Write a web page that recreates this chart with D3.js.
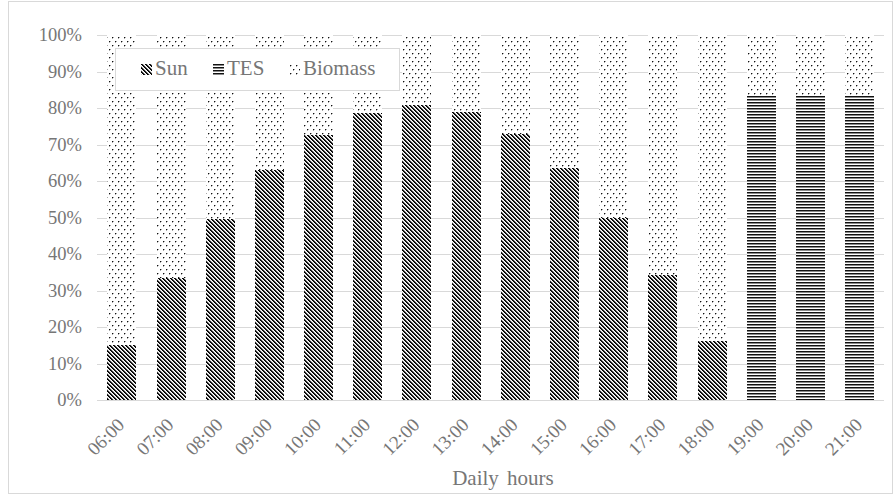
<!DOCTYPE html>
<html>
<head>
<meta charset="utf-8">
<script src="https://cdn.jsdelivr.net/npm/d3@7"></script>
<style>
  html, body { margin: 0; padding: 0; background: #fff; }
  svg { display: block; }
  text { font-family: "Liberation Serif", "Times New Roman", serif; }
</style>
</head>
<body>
<svg id="chart" width="896" height="495"></svg>
<script>
// Share of hourly energy supply by source (%)
const hours = ["06:00","07:00","08:00","09:00","10:00","11:00","12:00","13:00",
               "14:00","15:00","16:00","17:00","18:00","19:00","20:00","21:00"];
const sun = [15, 33.5, 49.5, 63, 72.6, 78.6, 80.7, 79, 73, 63.5, 50, 34.2, 16.2, 0, 0, 0];
const tes = [0, 0, 0, 0, 0, 0, 0, 0, 0, 0, 0, 0, 0, 83.6, 83.6, 83.6];
const biomass = sun.map((s, i) => 100 - s - tes[i]);
const seriesNames = ["Sun", "TES", "Biomass"];
const yTicks = [0, 10, 20, 30, 40, 50, 60, 70, 80, 90, 100];

const svg = d3.select("#chart");
const plot = { left: 97, right: 884, top: 35, bottom: 400 };
const textColor = "#767676";
const gridColor = "#d9d9d9";

// outer chart frame
svg.append("rect")
  .attr("x", 8.5).attr("y", 1.5)
  .attr("width", 884).attr("height", 492)
  .attr("fill", "#fff").attr("stroke", gridColor);

// fill patterns
const defs = svg.append("defs");
const pSun = defs.append("pattern").attr("id", "p-sun")
  .attr("patternUnits", "userSpaceOnUse").attr("width", 4).attr("height", 4);
pSun.append("rect").attr("width", 4).attr("height", 4).attr("fill", "#fff");
const sunShades = ["#000", "#222", "#d0d0d0"];
for (let r = 0; r < 4; r++) {
  sunShades.forEach((c, k) => {
    pSun.append("rect").attr("x", (r + k) % 4).attr("y", r)
      .attr("width", 1).attr("height", 1).attr("fill", c);
  });
}
const pTes = defs.append("pattern").attr("id", "p-tes")
  .attr("patternUnits", "userSpaceOnUse").attr("width", 4).attr("height", 3);
pTes.append("rect").attr("width", 4).attr("height", 3).attr("fill", "#fff");
pTes.append("rect").attr("y", 0).attr("width", 4).attr("height", 1).attr("fill", "#111");
pTes.append("rect").attr("y", 1).attr("width", 4).attr("height", 1).attr("fill", "#8a8a8a");
const pBio = defs.append("pattern").attr("id", "p-bio")
  .attr("patternUnits", "userSpaceOnUse").attr("width", 6).attr("height", 8);
pBio.append("rect").attr("width", 6).attr("height", 8).attr("fill", "#fff");
[[1, 1], [4, 5]].forEach(([dx, dy]) => {
  pBio.append("rect").attr("x", dx).attr("y", dy).attr("width", 1).attr("height", 1).attr("fill", "#111");
  pBio.append("rect").attr("x", dx + 1).attr("y", dy).attr("width", 1).attr("height", 1).attr("fill", "#aaa");
  pBio.append("rect").attr("x", dx).attr("y", dy + 1).attr("width", 1).attr("height", 1).attr("fill", "#aaa");
});
const fills = { Sun: "url(#p-sun)", TES: "url(#p-tes)", Biomass: "url(#p-bio)" };

// scales
const x = d3.scaleBand().domain(hours).range([plot.left, plot.right]).paddingInner(0.42).paddingOuter(0.21);
const y = d3.scaleLinear().domain([0, 100]).range([plot.bottom, plot.top]);

// gridlines
svg.append("g").selectAll("line").data(yTicks).join("line")
  .attr("x1", plot.left).attr("x2", plot.right)
  .attr("y1", d => Math.round(y(d)) + 0.5).attr("y2", d => Math.round(y(d)) + 0.5)
  .attr("stroke", gridColor).attr("stroke-width", 1);

// y axis labels
const yAxis = d3.axisLeft(y).tickValues(yTicks).tickFormat(d => d + "%").tickSize(0).tickPadding(0);
const gy = svg.append("g").attr("transform", `translate(${plot.left - 15},0)`).call(yAxis);
gy.select(".domain").remove();
gy.selectAll("text").attr("fill", textColor).attr("font-size", 18.5)
  .attr("font-family", "Liberation Serif, serif").attr("dy", "0.32em");

// stacked bars
const rows = hours.map((h, i) => ({ hour: h, Sun: sun[i], TES: tes[i], Biomass: biomass[i] }));
const stack = d3.stack().keys(seriesNames)(rows);
svg.append("g").selectAll("g").data(stack).join("g")
  .attr("fill", d => fills[d.key])
  .selectAll("rect").data(d => d.filter(p => p[1] - p[0] > 0)).join("rect")
  .attr("x", d => Math.round(x(d.data.hour)))
  .attr("width", Math.round(x.bandwidth()))
  .attr("y", d => Math.round(y(d[1])))
  .attr("height", d => Math.round(y(d[0])) - Math.round(y(d[1])))
  .attr("shape-rendering", "crispEdges");

// x axis baseline
svg.append("line")
  .attr("x1", plot.left).attr("x2", plot.right)
  .attr("y1", Math.round(y(0)) + 0.5).attr("y2", Math.round(y(0)) + 0.5)
  .attr("stroke", gridColor);

// x axis labels, rotated
const xAxis = d3.axisBottom(x).tickSize(0).tickPadding(0);
const gx = svg.append("g").attr("transform", `translate(0,${plot.bottom})`).call(xAxis);
gx.select(".domain").remove();
gx.selectAll("text")
  .attr("fill", textColor).attr("font-size", 19)
  .attr("font-family", "Liberation Serif, serif")
  .attr("text-anchor", "end")
  .attr("dy", null).attr("y", null)
  .attr("transform", "translate(4,26) rotate(-45)");

// axis title
svg.append("text").attr("x", 503).attr("y", 485)
  .attr("text-anchor", "middle").attr("fill", textColor).attr("font-size", 21)
  .attr("word-spacing", 3)
  .text("Daily hours");

// legend
const lg = svg.append("g");
lg.append("rect").attr("x", 115.5).attr("y", 48.5).attr("width", 284).attr("height", 42)
  .attr("fill", "#fff").attr("stroke", gridColor);
const legendX = [141, 213, 289];
seriesNames.forEach((name, i) => {
  const g = lg.append("g").attr("transform", `translate(${legendX[i]},64)`);
  g.append("rect").attr("width", 11).attr("height", 11).attr("fill", fills[name])
    .attr("shape-rendering", "crispEdges");
  g.append("text").attr("x", 14).attr("y", 11).attr("fill", textColor)
    .attr("font-size", 21).text(name);
});
</script>
</body>
</html>
